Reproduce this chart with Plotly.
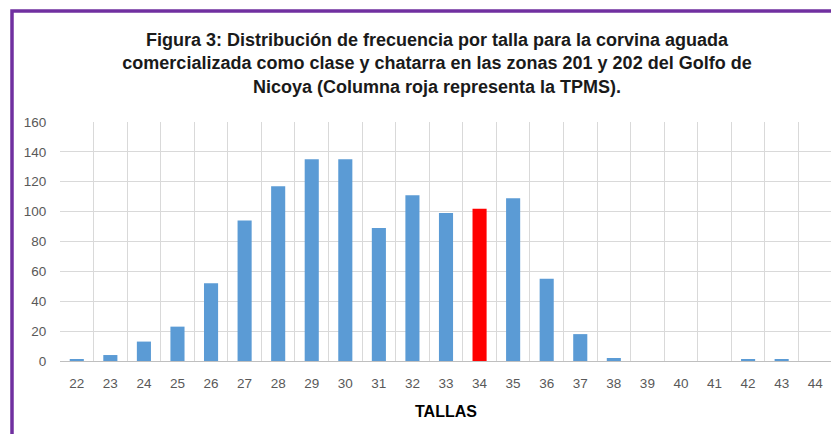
import plotly.graph_objects as go

tallas = ["22", "23", "24", "25", "26", "27", "28", "29", "30", "31", "32", "33",
          "34", "35", "36", "37", "38", "39", "40", "41", "42", "43", "44"]
frecuencia = [1, 4, 13, 23, 52, 94, 117, 135, 135, 89, 111, 99,
              102, 109, 55, 18, 2, 0, 0, 0, 1, 1, 0]
tpms = "34"
y_ticks = [0, 20, 40, 60, 80, 100, 120, 140, 160]

azul = "#5B9BD5"
rojo = "#FF0000"
colores = [rojo if t == tpms else azul for t in tallas]

# page body has an 8px margin; figure coordinates are screen coordinates minus 8
OFF = 8
W, H = 831, 426
L, R, T, B = 52, 7, 114, 73
pw, ph = W - L - R, H - T - B

def px_to_paper_x(px):
    return (px - OFF - L) / pw

def px_to_paper_y(py):
    return (H - B - (py - OFF)) / ph

fig = go.Figure(go.Bar(x=tallas, y=frecuencia, marker_color=colores,
                       marker_line_width=0, width=0.42))

fig.update_layout(
    width=W, height=H,
    margin=dict(l=L, r=R, t=T, b=B),
    paper_bgcolor="white", plot_bgcolor="white",
    showlegend=False,
    title=dict(
        text="Figura 3: Distribución de frecuencia por talla para la corvina aguada<br>"
             "comercializada como clase y chatarra en las zonas 201 y 202 del Golfo de<br>"
             "Nicoya (Columna roja representa la TPMS).",
        x=(437 - OFF) / W, xanchor="center", xref="container",
        y=1 - 38 / H, yanchor="top", yref="container",
        font=dict(family="Liberation Sans", size=18, color="#1a1a1a", weight="bold"),
    ),
    font=dict(family="Liberation Sans", size=12, color="#595959"),
    xaxis=dict(
        type="category", tickson="boundaries",
        showgrid=True, gridcolor="#D9D9D9", gridwidth=1,
        showline=True, linecolor="#BFBFBF", linewidth=1, mirror=False,
        ticks="", ticklabelstandoff=10,
        tickfont=dict(size=13.5, color="#595959"),
        title=dict(text="<b>TALLAS</b>", font=dict(size=16, color="#000000"), standoff=15),
        range=[-0.5, len(tallas) - 0.5],
    ),
    yaxis=dict(
        range=[0, 160], tickvals=y_ticks,
        showgrid=True, gridcolor="#D9D9D9", gridwidth=1,
        zeroline=False, showline=False,
        ticks="outside", ticklen=10, tickcolor="rgba(0,0,0,0)",
        tickfont=dict(size=13.5, color="#595959"),
    ),
    bargap=0.58,
    shapes=[
        dict(type="line", xref="paper", yref="paper",
             x0=1, x1=1, y0=0, y1=1, line=dict(color="#D9D9D9", width=1)),
        dict(type="rect", xref="paper", yref="paper",
             x0=px_to_paper_x(12), x1=px_to_paper_x(860),
             y0=px_to_paper_y(460), y1=px_to_paper_y(11),
             line=dict(color="#7030A0", width=3.5), fillcolor="rgba(0,0,0,0)",
             layer="above"),
    ],
)

fig.write_html("out.html")
